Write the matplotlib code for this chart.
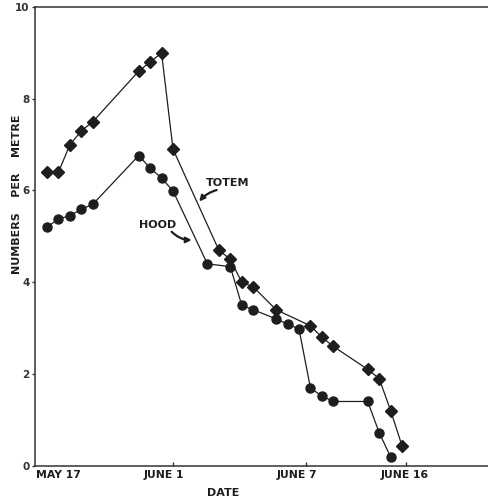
import matplotlib
matplotlib.use("Agg")
import matplotlib.pyplot as plt

# sampling day index (0 = May 17 sample)
totem_day = [0, 1, 2, 3, 4, 8, 9, 10, 11, 15, 16, 17, 18, 20, 23, 24, 25, 28, 29, 30, 31]
totem_val = [6.4, 6.4, 7.0, 7.3, 7.5, 8.6, 8.8, 9.0, 6.9, 4.7, 4.5, 4.0, 3.9, 3.4, 3.05, 2.8, 2.6, 2.1, 1.9, 1.2, 0.43]

hood_day = [0, 1, 2, 3, 4, 8, 9, 10, 11, 14, 16, 17, 18, 20, 21, 22, 23, 24, 25, 28, 29, 30]
hood_val = [5.2, 5.38, 5.45, 5.59, 5.7, 6.76, 6.49, 6.27, 5.99, 4.4, 4.34, 3.5, 3.4, 3.2, 3.09, 2.98, 1.69, 1.52, 1.4, 1.4, 0.72, 0.19]

date_labels = ["MAY 17", "JUNE 1", "JUNE 7", "JUNE 16"]
date_label_pos = [0.96, 10.2, 21.8, 31.2]
date_tick_pos = [11.0, 22.6, 31.3]
y_ticks = [0, 2, 4, 6, 8, 10]

ink = "#1e1e1e"

fig = plt.figure(figsize=(4.89, 4.97), dpi=100)
W, H = 489, 497
ax = fig.add_axes([35 / W, (H - 465.7) / H, (488 - 35) / W, (465.7 - 7) / H])

ax.plot(totem_day, totem_val, color=ink, lw=0.9, marker="D", ms=6, mfc=ink, mec=ink)
ax.plot(hood_day, hood_val, color=ink, lw=0.9, marker="o", ms=6.5, mfc=ink, mec=ink)

ax.set_xlim(-1.05, 38.5)
ax.set_ylim(0, 10)

for s in ["left", "bottom", "top"]:
    ax.spines[s].set_color("#333333")
    ax.spines[s].set_linewidth(1.1)
ax.spines["right"].set_visible(False)

ax.set_yticks(y_ticks)
ax.set_yticklabels([str(v) for v in y_ticks], fontweight="bold", fontsize=7.5, color=ink)
ax.tick_params(axis="y", direction="out", length=2.5, width=1, pad=1.5, colors="#333333")

ax.set_xticks(date_label_pos)
ax.set_xticklabels(date_labels, fontweight="bold", fontsize=7.8, color=ink)
ax.set_xticks(date_tick_pos, minor=True)
ax.tick_params(axis="x", which="major", length=0, pad=3)
ax.tick_params(axis="x", which="minor", direction="in", length=3, width=1, colors="#333333")

ax.set_xlabel("DATE", fontweight="bold", fontsize=8, color=ink, labelpad=4)
ax.xaxis.set_label_coords((223 - 35) / (488 - 35), -(488.5 - 465.7) / (465.7 - 7))

fig.text(17 / W, 1 - 194 / H, "NUMBERS    PER    METRE", rotation=90, ha="center", va="center",
         fontweight="bold", fontsize=8, color=ink)

ax.text(15.78, 6.16, "TOTEM", ha="center", va="center", fontweight="bold", fontsize=8, color=ink)
ax.annotate("", xy=(13.29, 5.76), xytext=(14.81, 6.01),
            arrowprops=dict(arrowstyle="-|>", color=ink, lw=1.6, mutation_scale=8,
                            connectionstyle="arc3,rad=0.15", shrinkA=0, shrinkB=0))
ax.text(9.64, 5.25, "HOOD", ha="center", va="center", fontweight="bold", fontsize=8, color=ink)
ax.annotate("", xy=(12.63, 4.92), xytext=(10.88, 5.10),
            arrowprops=dict(arrowstyle="-|>", color=ink, lw=1.6, mutation_scale=8,
                            connectionstyle="arc3,rad=0.2", shrinkA=0, shrinkB=0))

fig.savefig("out.png", dpi=100)
